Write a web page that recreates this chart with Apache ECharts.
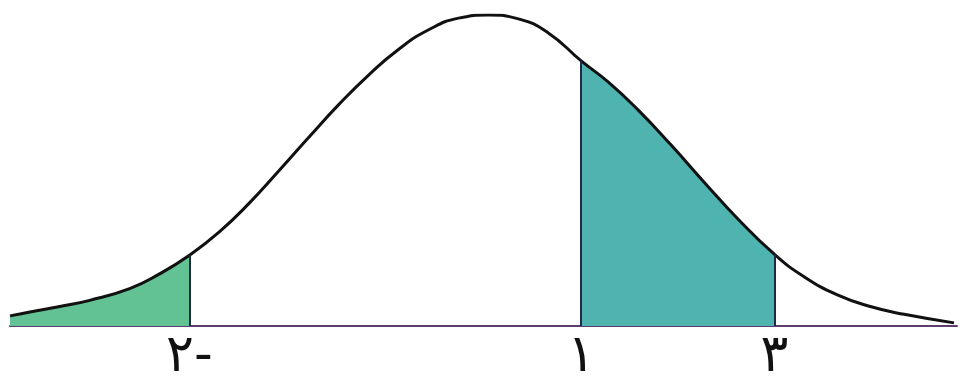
<!DOCTYPE html>
<html>
<head>
<meta charset="utf-8">
<title>normal curve</title>
<script src="https://cdn.jsdelivr.net/npm/echarts@6/dist/echarts.min.js"></script>
<style>
  html, body { margin: 0; padding: 0; background: #fff; }
  #main { width: 964px; height: 380px; }
</style>
</head>
<body>
<div id="main"></div>
<script>
// points (x along the base line, y = height)
var curveX = [-4.80, -4.60, -4.30, -4.00, -3.60, -3.30, -3.00, -2.70, -2.40, -2.10, -1.80, -1.50, -1.20, -0.90, -0.60, -0.30,
              0.00, 0.30, 0.60, 0.93, 1.20, 1.50, 1.83, 2.17, 2.50, 2.87, 3.17, 3.50, 3.83, 4.17, 4.67];
var curveY = [0.013, 0.018, 0.025, 0.033, 0.048, 0.067, 0.091, 0.121, 0.158, 0.200, 0.243, 0.285, 0.323, 0.356, 0.381, 0.396,
              0.400, 0.395, 0.377, 0.341, 0.314, 0.278, 0.233, 0.184, 0.138, 0.092, 0.063, 0.040, 0.025, 0.015, 0.004];

// tick marks under the curve and their labels
var tickX = [-3.00, 0.93, 2.87];
var tickLabels = ['٢-', '١', '٣'];

// shaded ranges
var leftRange = [-4.80, -3.00];
var rightRange = [0.93, 2.87];

function pick(range) {
  var out = [];
  for (var i = 0; i < curveX.length; i++) {
    if (curveX[i] >= range[0] - 1e-9 && curveX[i] <= range[1] + 1e-9) out.push([curveX[i], curveY[i]]);
  }
  return out;
}
function heightAt(x) {
  return curveY[curveX.indexOf(x)];
}

var curve = curveX.map(function (x, i) { return [x, curveY[i]]; });
var labelMap = {};
tickX.forEach(function (x, i) { labelMap[x] = tickLabels[i]; });

var chart = echarts.init(document.getElementById('main'));
chart.setOption({
  animation: false,
  grid: { left: 10, right: 7, top: 15, bottom: 54, outerBoundsMode: 'none', containLabel: false },
  xAxis: {
    type: 'value',
    min: -4.80,
    max: 4.70,
    splitLine: { show: false },
    axisLine: { show: true, onZero: true, lineStyle: { color: '#5c3d6e', width: 2 } },
    axisTick: { show: false },
    axisLabel: {
      customValues: tickX,
      formatter: function (v) { return labelMap[v] || ''; },
      color: '#111',
      fontSize: 52,
      lineHeight: 52,
      verticalAlign: 'top',
      fontFamily: 'DejaVu Sans',
      margin: 5
    }
  },
  yAxis: {
    type: 'value',
    min: 0,
    max: 0.4,
    show: false
  },
  series: [
    {
      type: 'line',
      data: pick(leftRange),
      smooth: 0.5,
      symbol: 'none',
      lineStyle: { width: 0 },
      areaStyle: { color: '#62c294', opacity: 1 },
      z: 1
    },
    {
      type: 'line',
      data: pick(rightRange),
      smooth: 0.5,
      symbol: 'none',
      lineStyle: { width: 0 },
      areaStyle: { color: '#4fb3b0', opacity: 1 },
      z: 1
    },
    {
      type: 'line',
      data: [],
      symbol: 'none',
      markLine: {
        silent: true,
        symbol: 'none',
        label: { show: false },
        lineStyle: { color: '#1e2a4a', width: 2, type: 'solid' },
        data: tickX.map(function (x) {
          return [{ coord: [x, 0] }, { coord: [x, heightAt(x)] }];
        })
      },
      z: 2
    },
    {
      type: 'line',
      data: curve,
      smooth: 0.5,
      symbol: 'none',
      lineStyle: { color: '#111', width: 3 },
      z: 3
    }
  ]
});
</script>
</body>
</html>
